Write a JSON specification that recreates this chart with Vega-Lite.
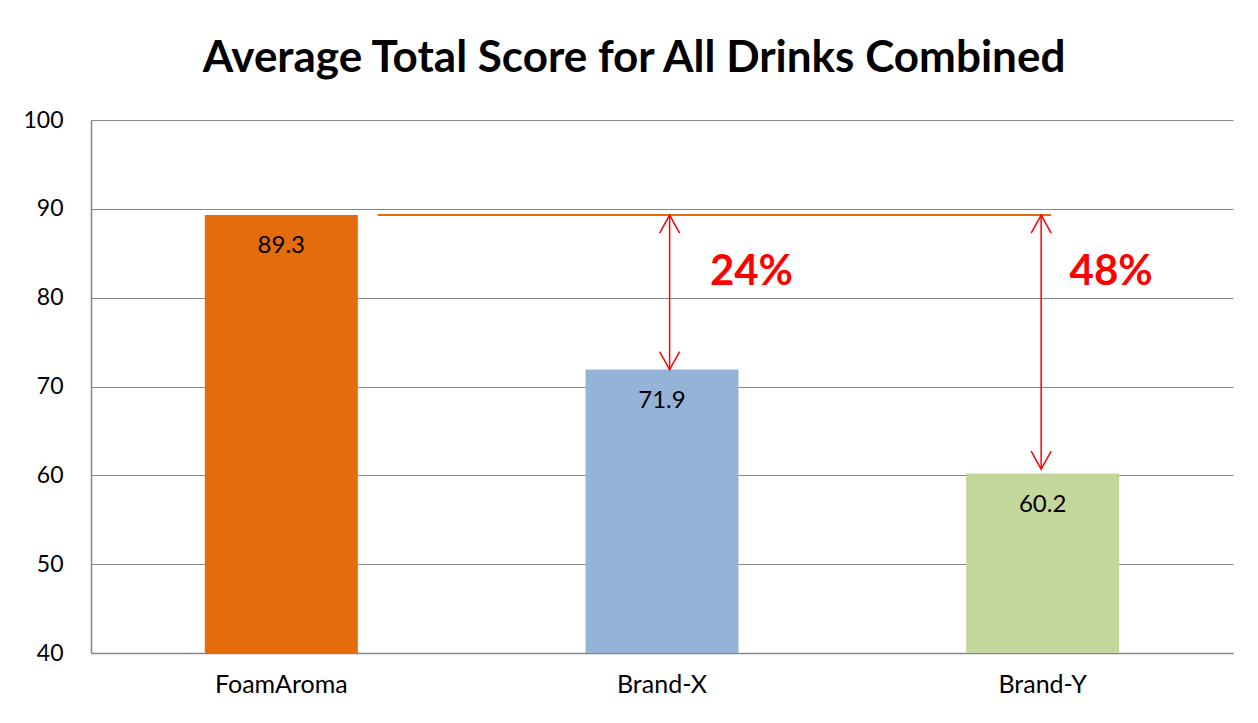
{
  "$schema": "https://vega.github.io/schema/vega-lite/v6.json",
  "autosize": "none",
  "width": 1142,
  "height": 533,
  "padding": {"left": 91, "top": 120, "right": 25, "bottom": 70},
  "background": "white",
  "config": {
    "font": "Lato",
    "view": {"stroke": null},
    "axis": {"labelFont": "Lato", "labelFontSize": 23, "labelColor": "#000000", "domainColor": "#868686", "domainWidth": 1.5, "gridColor": "#868686", "gridWidth": 1.2, "ticks": false, "title": null}
  },
  "title": {"text": "Average Total Score for All Drinks Combined", "font": "Lato", "fontSize": 44, "fontWeight": "bold", "color": "#000000", "anchor": "middle", "frame": "group", "dx": -28, "offset": 28},
  "datasets": {
    "scores": [
      {"brand": "FoamAroma", "score": 89.3},
      {"brand": "Brand-X", "score": 71.9},
      {"brand": "Brand-Y", "score": 60.2}
    ],
    "gaps": [
      {"from": "FoamAroma", "to": "Brand-Y", "brand": "Brand-X", "top": 89.3, "bottom": 71.9, "pct": "24%", "labelY": 82.9},
      {"from": "FoamAroma", "to": "Brand-Y", "brand": "Brand-Y", "top": 89.3, "bottom": 60.7, "pct": "48%", "labelY": 82.9}
    ]
  },
  "layer": [
    {
      "data": {"name": "scores"},
      "mark": {"type": "bar", "size": 153},
      "encoding": {
        "x": {"field": "brand", "type": "nominal", "sort": null, "scale": {"domain": ["FoamAroma", "Brand-X", "Brand-Y"], "paddingInner": 0, "paddingOuter": 0}, "axis": {"labelAngle": 0, "labelPadding": 19, "labelFontSize": 25, "domain": true}},
        "y": {"field": "score", "type": "quantitative", "scale": {"domain": [40, 100], "nice": false, "zero": false}, "axis": {"values": [40, 50, 60, 70, 80, 90, 100], "labelPadding": 28, "grid": true, "domain": true}},
        "y2": {"datum": 40},
        "color": {"field": "brand", "type": "nominal", "scale": {"domain": ["FoamAroma", "Brand-X", "Brand-Y"], "range": ["#E46C0A", "#95B3D7", "#C3D69B"]}, "legend": null}
      }
    },
    {
      "data": {"name": "scores"},
      "mark": {"type": "text", "fontSize": 24, "color": "#000000", "baseline": "middle", "dy": 31},
      "encoding": {
        "x": {"field": "brand", "type": "nominal", "sort": null},
        "y": {"field": "score", "type": "quantitative"},
        "text": {"field": "score", "type": "quantitative", "format": ".1f"}
      }
    },
    {
      "data": {"name": "gaps"},
      "transform": [{"filter": "datum.brand === 'Brand-X'"}],
      "mark": {"type": "rule", "color": "#E46C0A", "strokeWidth": 2},
      "encoding": {
        "x": {"field": "from", "type": "nominal", "bandPosition": 0.753},
        "x2": {"field": "to", "bandPosition": 0.522},
        "y": {"field": "top", "type": "quantitative"}
      }
    },
    {
      "data": {"name": "gaps"},
      "transform": [{"filter": "datum.brand === 'Brand-X'"}],
      "encoding": {"x": {"field": "brand", "type": "nominal", "bandPosition": 0.52}},
      "layer": [
        {"mark": {"type": "rule", "color": "#FF0000", "strokeWidth": 1.5}, "encoding": {"y": {"field": "top", "type": "quantitative"}, "y2": {"field": "bottom"}}},
        {"mark": {"type": "point", "shape": "M-1,1.8L0,0L1,1.8", "size": 400, "filled": false, "stroke": "#FF0000", "strokeWidth": 1.5, "opacity": 1}, "encoding": {"y": {"field": "top", "type": "quantitative"}}},
        {"mark": {"type": "point", "shape": "M-1,-1.8L0,0L1,-1.8", "size": 400, "filled": false, "stroke": "#FF0000", "strokeWidth": 1.5, "opacity": 1}, "encoding": {"y": {"field": "bottom", "type": "quantitative"}}},
        {"mark": {"type": "text", "color": "#FF0000", "fontSize": 42, "fontWeight": "bold", "align": "center", "baseline": "middle"}, "encoding": {"x": {"field": "brand", "type": "nominal", "bandPosition": 0.735}, "y": {"field": "labelY", "type": "quantitative"}, "text": {"field": "pct"}}}
      ]
    },
    {
      "data": {"name": "gaps"},
      "transform": [{"filter": "datum.brand === 'Brand-Y'"}],
      "encoding": {"x": {"field": "brand", "type": "nominal", "bandPosition": 0.496}},
      "layer": [
        {"mark": {"type": "rule", "color": "#FF0000", "strokeWidth": 1.5}, "encoding": {"y": {"field": "top", "type": "quantitative"}, "y2": {"field": "bottom"}}},
        {"mark": {"type": "point", "shape": "M-1,1.8L0,0L1,1.8", "size": 400, "filled": false, "stroke": "#FF0000", "strokeWidth": 1.5, "opacity": 1}, "encoding": {"y": {"field": "top", "type": "quantitative"}}},
        {"mark": {"type": "point", "shape": "M-1,-1.8L0,0L1,-1.8", "size": 400, "filled": false, "stroke": "#FF0000", "strokeWidth": 1.5, "opacity": 1}, "encoding": {"y": {"field": "bottom", "type": "quantitative"}}},
        {"mark": {"type": "text", "color": "#FF0000", "fontSize": 42, "fontWeight": "bold", "align": "center", "baseline": "middle"}, "encoding": {"x": {"field": "brand", "type": "nominal", "bandPosition": 0.68}, "y": {"field": "labelY", "type": "quantitative"}, "text": {"field": "pct"}}}
      ]
    }
  ]
}
